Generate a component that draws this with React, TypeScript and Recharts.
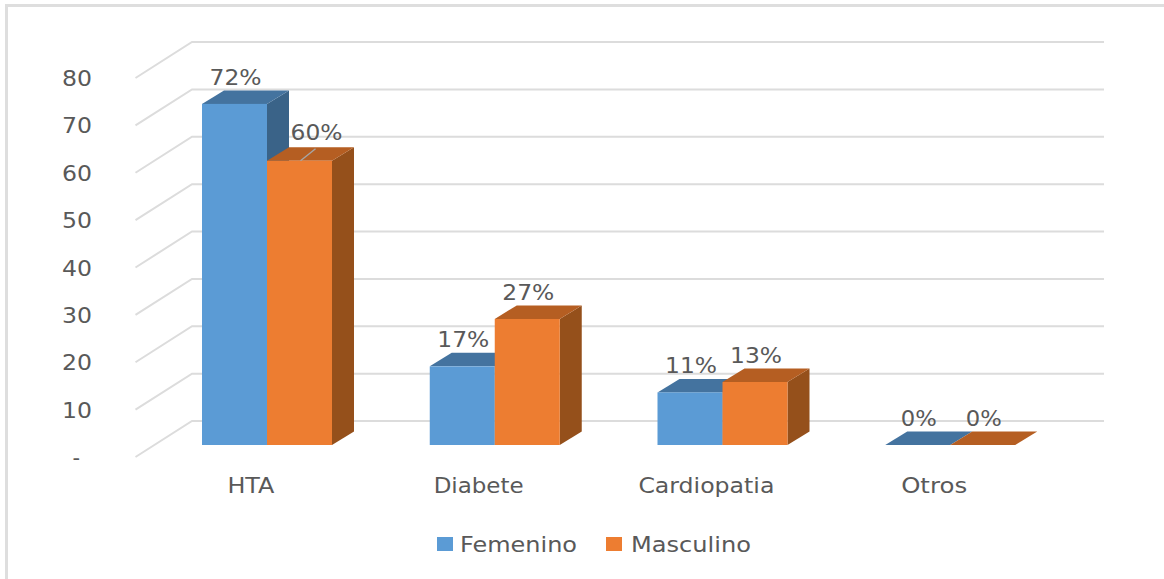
import { Bar, BarChart, CartesianGrid, LabelList, Legend, XAxis, YAxis } from 'recharts';

const categories = ['HTA', 'Diabete', 'Cardiopatia', 'Otros'];
const femenino = [72, 16.6, 11.1, 0];
const masculino = [60, 26.6, 13.3, 0];
const yTicks = [0, 10, 20, 30, 40, 50, 60, 70, 80];

const data = categories.map((name, i) => ({
  name,
  Femenino: femenino[i],
  Masculino: masculino[i],
}));

const TEXT = '#595959';
const GRID = '#dcdcdc';
const FONT = '"DejaVu Sans", sans-serif';
// depth of the fake 3d box
const DX = 22;
const DY = 13.5;

const shades: Record<string, { top: string; side: string }> = {
  '#5b9bd5': { top: '#44739f', side: '#3a6388' },
  '#ed7d31': { top: '#b55e22', side: '#95501b' },
};

function Box3D(props: any) {
  const { x, y, width, height, fill } = props;
  const s = shades[fill];
  return (
    <g>
      <path
        d={`M${x + width} ${y}l${DX} ${-DY}v${height}l${-DX} ${DY}z`}
        fill={s.side}
      />
      <path
        d={`M${x} ${y}l${DX} ${-DY}h${width}l${-DX} ${DY}z`}
        fill={s.top}
      />
      <rect x={x} y={y} width={width} height={height} fill={fill} />
    </g>
  );
}

function GridLine(props: any) {
  const y = props.y1;
  return (
    <path
      d={`M135.5 ${y + 12}L192 ${y - 24}H1104`}
      fill="none"
      stroke={GRID}
      strokeWidth={2}
    />
  );
}

function YTick({ y, payload }: any) {
  const zero = payload.value === 0;
  return (
    <text
      x={zero ? 80 : 92}
      y={y + 20}
      textAnchor="end"
      fill={TEXT}
      fontSize={21}
      fontFamily={FONT}
      textLength={zero ? undefined : 30}
      lengthAdjust="spacingAndGlyphs"
    >
      {zero ? '-' : payload.value}
    </text>
  );
}

const xWidths: Record<string, number> = { HTA: 47, Diabete: 90, Cardiopatia: 136, Otros: 66 };

function XTick({ x, payload }: any) {
  const w = xWidths[payload.value];
  return (
    <text
      x={x - 16 - w / 2}
      y={493}
      fill={TEXT}
      fontSize={21}
      fontFamily={FONT}
      textLength={w}
      lengthAdjust="spacingAndGlyphs"
    >
      {payload.value}
    </text>
  );
}

function ValueLabel({ x, y, width, value, index, nudge }: any) {
  const shifted = nudge && index === 0;
  const cx = x + width / 2 + (shifted ? 17 : 1);
  const pct = Math.round(value);
  return (
    <g>
      {shifted && (
        <line
          x1={x + width / 2 + 1}
          y1={y}
          x2={x + width / 2 + 16}
          y2={y - 12}
          stroke="#a6a6a6"
          strokeWidth={1.5}
        />
      )}
      <text
        x={cx}
        y={y - 19 - (shifted ? 2 : 0)}
        textAnchor="middle"
        fill={TEXT}
        fontSize={22}
        fontFamily={FONT}
        textLength={pct === 0 ? 36 : 52}
        lengthAdjust="spacingAndGlyphs"
      >
        {pct}%
      </text>
    </g>
  );
}

function LegendBox({ payload }: any) {
  const spots = [
    { box: 437, text: 460, w: 117 },
    { box: 606, text: 631, w: 120 },
  ];
  return (
    <svg width={1164} height={50} style={{ display: 'block' }}>
      {(payload || []).map((p: any, i: number) => (
        <g key={p.value}>
          <rect x={spots[i].box} y={8} width={16} height={14} fill={p.color} />
          <text
            x={spots[i].text}
            y={23}
            fill={TEXT}
            fontSize={21}
            fontFamily={FONT}
            textLength={spots[i].w}
            lengthAdjust="spacingAndGlyphs"
          >
            {p.value}
          </text>
        </g>
      ))}
    </svg>
  );
}

export default function App() {
  return (
    <div
      style={{
        position: 'absolute',
        left: 0,
        top: 0,
        width: 1164,
        height: 579,
        background: '#fff',
        overflow: 'hidden',
      }}
    >
      <div
        style={{
          position: 'absolute',
          left: 5,
          top: 4,
          right: 0,
          bottom: 0,
          borderTop: '3px solid #dedede',
          borderLeft: '3px solid #dedede',
        }}
      />
      <BarChart
        width={1164}
        height={579}
        data={data}
        margin={{ top: 66, right: 100, bottom: 0, left: 0 }}
        barSize={65}
        barGap={0}
      >
        <CartesianGrid vertical={false} horizontal={(p: any) => <GridLine key={p.key} {...p} />} />
        <XAxis
          dataKey="name"
          height={84}
          axisLine={false}
          tickLine={false}
          interval={0}
          tick={<XTick />}
        />
        <YAxis
          width={153}
          domain={[0, 80]}
          ticks={yTicks}
          axisLine={false}
          tickLine={false}
          tick={<YTick />}
        />
        <Legend
          verticalAlign="bottom"
          height={50}
          content={<LegendBox />}
          wrapperStyle={{ left: 0, width: 1164 }}
        />
        <Bar dataKey="Femenino" fill="#5b9bd5" shape={<Box3D />} isAnimationActive={false}>
          <LabelList dataKey="Femenino" content={<ValueLabel />} />
        </Bar>
        <Bar dataKey="Masculino" fill="#ed7d31" shape={<Box3D />} isAnimationActive={false}>
          <LabelList dataKey="Masculino" content={<ValueLabel nudge />} />
        </Bar>
      </BarChart>
    </div>
  );
}
